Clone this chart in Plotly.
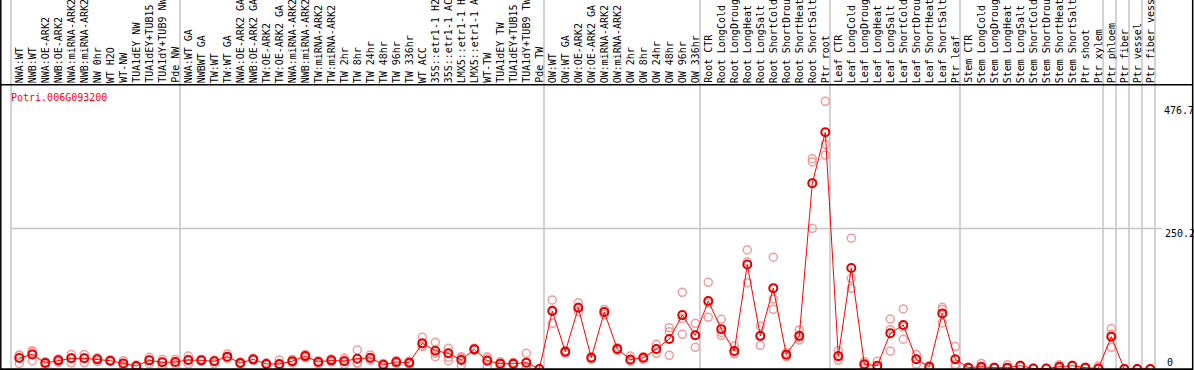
import plotly.graph_objects as go

W, H = 1194, 370

labels = [
    "NWA:WT", "NWB:WT", "NWA:OE-ARK2", "NWB:OE-ARK2", "NWA:miRNA-ARK2", "NWB:miRNA-ARK2",
    "NW 0hr", "WT H2O", "WT-NW", "TUA1dEY NW", "TUA1dEY+TUB15 NW", "TUA1dY+TUB9 NW", "Pde NW",
    "NWA:WT GA", "NWBWT GA", "TW:WT", "TW:WT GA", "NWA:OE-ARK2 GA", "NWB:OE-ARK2 GA",
    "TW:OE-ARK2", "TW:OE-ARK2 GA", "NWA:miRNA-ARK2 GA", "NWB:miRNA-ARK2 GA", "TW:miRNA-ARK2",
    "TW:miRNA-ARK2 GA", "TW 2hr", "TW 8hr", "TW 24hr", "TW 48hr", "TW 96hr", "TW 336hr",
    "WT ACC", "35S::etr1-1 H2O", "35S::etr1-1 ACC", "LMX5::etr1-1 H2O", "LMX5::etr1-1 ACC",
    "WT-TW", "TUA1dEY TW", "TUA1dEY+TUB15 TW", "TUA1dY+TUB9 TW", "Pde TW",
    "OW:WT", "OW:WT GA", "OW:OE-ARK2", "OW:OE-ARK2 GA", "OW:miRNA-ARK2", "OW:miRNA-ARK2 GA",
    "OW 2hr", "OW 8hr", "OW 24hr", "OW 48hr", "OW 96hr", "OW 336hr",
    "Root CTR", "Root LongCold", "Root LongDrought", "Root LongHeat", "Root LongSalt",
    "Root ShortCold", "Root ShortDrought", "Root ShortHeat", "Root ShortSalt", "Ptr root",
    "Leaf CTR", "Leaf LongCold", "Leaf LongDrought", "Leaf LongHeat", "Leaf LongSalt",
    "Leaf ShortCold", "Leaf ShortDrought", "Leaf ShortHeat", "Leaf ShortSalt", "Ptr leaf",
    "Stem CTR", "Stem LongCold", "Stem LongDrought", "Stem LongHeat", "Stem LongSalt",
    "Stem ShortCold", "Stem ShortDrought", "Stem ShortHeat", "Stem ShortSalt", "Ptr shoot",
    "Ptr xylem", "Ptr phloem", "Ptr fiber", "Ptr vessel", "Ptr fiber vessel",
]

mean_vals = [
    19.6, 26, 10.7, 15.4, 19, 19, 17.2, 14.8, 10, 5.3,
    15.4, 11.9, 12.5, 16, 15.4, 13.7, 22, 10.7, 17.2, 9,
    9, 14, 23, 12.5, 15.4, 14, 18.4, 20, 7.7, 12.5,
    11.3, 45.7, 32.6, 28, 16, 35, 14.8, 9.5, 9.5, 11.3,
    0, 103.3, 30.8, 109, 20, 101.5, 35.5, 17, 20, 35.5,
    53.4, 96, 60, 121, 71, 32, 186, 59, 144, 25.5,
    59, 331, 421.5, 23, 180, 8.4, 6, 63.6, 78.4, 17.3,
    4, 99, 17.3, 2.4, 4, 2.4, 2.4, 5.9, 1, 1,
    4, 5.9, 2.4, 1, 57.5, 0, 0, 0,
]

rep1 = [
    25, 32.6, 13, 18, 26, 26, 20, 16, 14.8, 7,
    20.8, 17, 17, 23, 17, 16, 26.7, 12.5, 19, 11,
    16, 17, 26, 14.8, 18, 19, 33.8, 25, 10, 15,
    13.7, 56.4, 47.5, 36.8, 22, 37, 22, 13, 12, 28,
    0, 123, 33, 118, 22, 106, 38, 23, 22, 44,
    73.6, 136.6, 81.4, 154.4, 88.5, 41, 212, 76.6, 199, 29,
    69.5, 374.5, 476.7, 32.6, 233, 13, 14, 89, 107, 26,
    2, 110, 40, 2, 10, 2, 7.7, 6, 1, 1,
    7.7, 6, 2, 5.3, 72, 0, 0, 0,
]

rep2 = [
    10, 14.8, 7, 12, 11, 11, 13, 13, 5.3, 3,
    9.5, 5.3, 8, 9, 14, 9.5, 20, 9, 15.4, 7,
    7, 11, 20, 9, 12.5, 8.3, 10, 16, 4, 10,
    9, 40, 28, 20.8, 7.1, 33, 4, 5, 7, 4,
    0, 81.4, 28, 102, 17, 97, 33, 14, 17, 28,
    66.4, 61.8, 38.6, 92, 60, 28, 191, 42.2, 124.7, 22,
    51.6, 368.7, 400, 22, 161.5, 4, 2, 32, 53, 8.3,
    6, 106, 4, 3, 1, 3, 0, 5, 1, 1,
    2, 5, 3, 0, 38.6, 0, 0, 0,
]

rep3 = [
    24, 30, 12, 16, 20, 20, 18, 15, 10, 6,
    16, 2.4, 12.5, 16, 15, 14, 19, 11, 17, 9,
    5, 14, 23, 13, 15.5, 15, 11, 19, 9, 12.5,
    11, 41, 22, 14.8, 19, 35, 18, 10, 9.5, 2,
    0, 105, 31, 110, 20, 101.5, 35.5, 14, 21, 35,
    24.4, 90, 60, 117, 65, 27, 153.7, 58, 106.3, 25.5,
    56, 250.6, 381, 16, 143.7, 8, 2, 70, 75, 17.5,
    4, 82, 8, 2, 1, 2, 0, 6.5, 1, 1,
    2.5, 6.5, 2, 0, 62, 0, 0, 0,
]

group_starts = [0, 13, 41, 53, 63, 73, 84, 85, 86, 87, 88]
y_tick_values = [476.7, 250.2, 0]
y_tick_texts = ["476.7", "250.2", "0"]
title_text = "Potri.006G093200"

# pixel geometry helpers
X0, DX = 19.3, 13.0          # pixel x of first column, column pitch
Y0, SY = 369.0, 0.5615       # pixel y of value 0, pixels per unit
xr = [-X0 / DX, -X0 / DX + W / DX]
yr = [-(H - Y0) / SY, Y0 / SY]

def px(xp):
    return xp / W

def py(yp):
    return 1 - yp / H

idx = list(range(len(labels)))
rep_color = "#f09c9c"
fig = go.Figure()
for reps in (rep1, rep2, rep3):
    fig.add_trace(go.Scatter(
        x=idx, y=reps, mode="markers",
        marker=dict(symbol="circle-open", size=8, color=rep_color, line=dict(width=1.5, color=rep_color)),
        hoverinfo="skip", showlegend=False, cliponaxis=False,
    ))
fig.add_trace(go.Scatter(
    x=idx, y=mean_vals, mode="lines+markers",
    line=dict(color="#ff0000", width=1),
    marker=dict(symbol="circle-open", size=8, color="#e00000", line=dict(width=2, color="#e00000")),
    text=labels, showlegend=False, cliponaxis=False,
))

shapes = []
# gray vertical group separators
for g in group_starts:
    xpix = X0 + DX * g - 8.3
    shapes.append(dict(type="line", xref="paper", yref="paper",
                       x0=px(xpix), x1=px(xpix), y0=py(369), y1=py(0),
                       line=dict(color="#c4c4c4", width=1.5), layer="below"))
# mid gridline
shapes.append(dict(type="line", xref="paper", yref="y",
                   x0=px(11), x1=px(1162), y0=y_tick_values[1], y1=y_tick_values[1],
                   line=dict(color="#c4c4c4", width=1.5), layer="below"))
# black frame lines
shapes.append(dict(type="line", xref="paper", yref="paper", x0=0, x1=px(1193), y0=py(84.8), y1=py(84.8),
                   line=dict(color="black", width=1.5)))
shapes.append(dict(type="line", xref="paper", yref="paper", x0=0, x1=px(1193), y0=py(369.2), y1=py(369.2),
                   line=dict(color="black", width=2)))
shapes.append(dict(type="line", xref="paper", yref="paper", x0=px(0.8), x1=px(0.8), y0=py(370), y1=py(0),
                   line=dict(color="black", width=1.5)))
shapes.append(dict(type="line", xref="paper", yref="paper", x0=px(1192.7), x1=px(1192.7), y0=py(370), y1=py(0),
                   line=dict(color="black", width=1.5)))

annotations = []
font = dict(family="DejaVu Sans Mono", size=10, color="black")
for i, lab in enumerate(labels):
    annotations.append(dict(x=i, y=py(84), xref="x", yref="paper", text=lab, textangle=-90,
                            showarrow=False, xanchor="center", yanchor="bottom", font=font, borderpad=0))
annotations.append(dict(x=px(9.5), y=py(97), xref="paper", yref="paper", text=title_text,
                        showarrow=False, xanchor="left", yanchor="middle", borderpad=0,
                        font=dict(family="DejaVu Sans Mono", size=10, color="#ff0000")))
for ypix, xl, t in zip([110, 233, 362], [1162.5, 1163.5, 1165.5], y_tick_texts):
    annotations.append(dict(x=px(xl), y=py(ypix), xref="paper", yref="paper", text=t,
                            showarrow=False, xanchor="left", yanchor="middle", borderpad=0, font=font))

fig.update_layout(
    width=W, height=H, margin=dict(l=0, r=0, t=0, b=0, pad=0),
    paper_bgcolor="white", plot_bgcolor="white",
    xaxis=dict(range=xr, visible=False, showgrid=False, zeroline=False, fixedrange=True),
    yaxis=dict(range=yr, visible=False, showgrid=False, zeroline=False, fixedrange=True),
    shapes=shapes, annotations=annotations, showlegend=False,
)

fig.write_html(
    "out.html",
    config={"displayModeBar": False},
    post_script="document.body.style.margin='0';document.body.style.padding='0';document.body.style.overflow='hidden';",
)
